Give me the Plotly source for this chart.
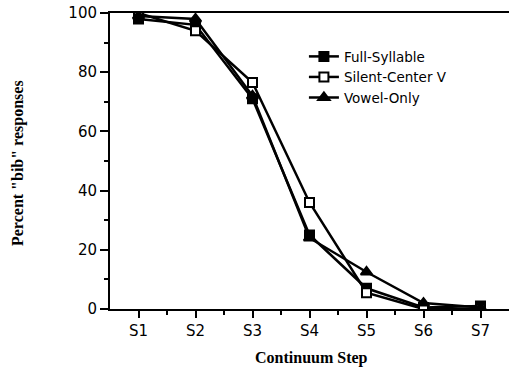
import plotly.graph_objects as go

steps = ["S1", "S2", "S3", "S4", "S5", "S6", "S7"]
full_syllable = [98, 96, 71, 25, 7, 0.5, 1]
silent_center = [100, 94, 76.5, 36, 5.5, 0, 0]
vowel_only = [99, 98, 72, 24, 12.5, 2, 0.5]

series_names = ["Full-Syllable", "Silent-Center V", "Vowel-Only"]
series_symbols = ["square", "square", "triangle-up"]
series_fills = ["black", "white", "black"]
series_sizes = [9, 9, 10]
series_values = [full_syllable, silent_center, vowel_only]

y_ticks = [0, 20, 40, 60, 80, 100]

x_idx = list(range(len(steps)))

fig = go.Figure()
for name, sym, fill, size, vals in zip(series_names, series_symbols, series_fills,
                                       series_sizes, series_values):
    fig.add_trace(go.Scatter(
        x=x_idx, y=vals, name=name, mode="lines+markers",
        line=dict(color="black", width=2.5),
        marker=dict(symbol=sym, size=size, color=fill,
                    line=dict(color="black", width=2)),
    ))

tick_font = dict(family="DejaVu Sans", size=15, color="black")

fig.update_layout(
    width=511, height=374,
    margin=dict(l=110, r=2, t=13, b=65),
    paper_bgcolor="white", plot_bgcolor="white",
    showlegend=True,
    legend=dict(x=0.486, y=0.905, xanchor="left", yanchor="top",
                bgcolor="rgba(0,0,0,0)",
                font=dict(family="DejaVu Sans", size=13.5, color="black"),
                tracegroupgap=0, itemsizing="trace"),
    xaxis=dict(
        range=[-0.5, len(steps) - 0.5],
        tickmode="array", tickvals=x_idx, ticktext=steps,
        ticks="outside", ticklen=7, tickwidth=2, tickcolor="black",
        minor=dict(tickmode="array", tickvals=[i + 0.5 for i in x_idx[:-1]],
                   ticks="outside", ticklen=4, tickwidth=2, tickcolor="black"),
        showline=True, linecolor="black", linewidth=2, mirror=True,
        showgrid=False, zeroline=False, tickfont=tick_font,
    ),
    yaxis=dict(
        range=[0, 100],
        tickmode="array", tickvals=y_ticks,
        ticks="outside", ticklen=8, tickwidth=2, tickcolor="black",
        minor=dict(dtick=10, ticks="outside", ticklen=4, tickwidth=2, tickcolor="black"),
        showline=True, linecolor="black", linewidth=2,
        showgrid=False, zeroline=False, tickfont=tick_font,
    ),
    annotations=[
        dict(text="Continuum Step", xref="paper", yref="paper",
             x=(311 - 110) / 399, y=-(358 - 309) / 296, xanchor="center", yanchor="middle",
             showarrow=False, font=dict(family="Liberation Serif", size=16, color="black")),
        dict(text='Percent "bib" responses', xref="paper", yref="paper",
             x=-(110 - 18) / 399, y=(309 - 163) / 296, xanchor="center", yanchor="middle",
             textangle=-90, showarrow=False,
             font=dict(family="Liberation Serif", size=16, color="black")),
    ],
)
fig.update_annotations(font_weight="bold")

fig.write_html("out.html")
